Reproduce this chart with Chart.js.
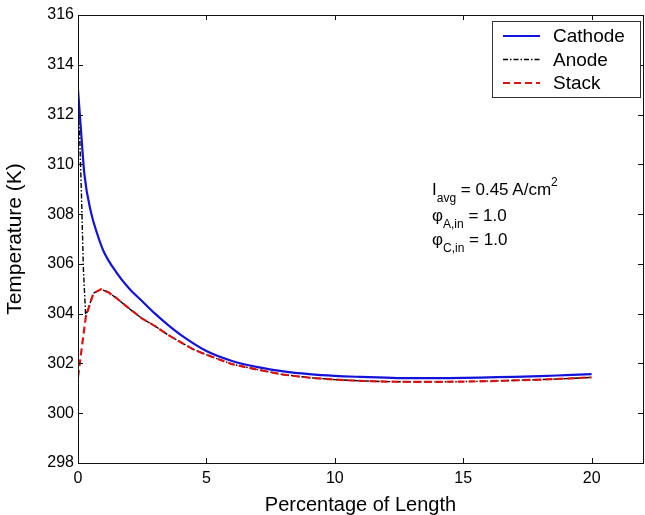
<!DOCTYPE html>
<html>
<head>
<meta charset="utf-8">
<title>Temperature vs Percentage of Length</title>
<script src="https://cdn.jsdelivr.net/npm/chart.js@4.4.1/dist/chart.umd.min.js"></script>
<style>
    html, body { margin: 0; padding: 0; background: #fff; }
    #wrap { position: relative; width: 645px; height: 515px; }
    .note { position: absolute; left: 432px; font: 17px "Liberation Sans", Arial, sans-serif; line-height: 17px; color: #000; white-space: nowrap; }
    .note .lo { position: relative; top: 7px; font-size: 12px; }
    .note .hi { position: relative; top: -9px; font-size: 12px; }
</style>
</head>
<body>
<div id="wrap">
    <canvas id="chart" width="645" height="515"></canvas>
    <div class="note" style="top:181px">I<span class="lo">avg</span> = 0.45 A/cm<span class="hi">2</span></div>
    <div class="note" style="top:207px">φ<span class="lo">A,in</span> = 1.0</div>
    <div class="note" style="top:231px">φ<span class="lo">C,in</span> = 1.0</div>
</div>
<script>
// values
const cathodeX = [0, 0.1, 0.25, 0.5, 0.75, 1, 1.5, 2, 2.5, 3, 3.5, 4, 5, 6, 7, 8, 9, 10, 11, 12, 13, 14, 15, 16, 17, 18, 19, 20];
const cathodeK = [313.0, 311.6, 309.6, 308.1, 307.2, 306.5, 305.65, 305.0, 304.5, 304.0, 303.55, 303.15, 302.5, 302.1, 301.85, 301.68, 301.57, 301.5, 301.46, 301.43, 301.41, 301.41, 301.42, 301.44, 301.46, 301.49, 301.53, 301.57];

const anodeX = [0, 0.07, 0.14, 0.21, 0.3, 0.6, 0.9, 1.2, 1.5, 2, 2.5, 3, 3.5, 4, 4.5, 5, 6, 7, 8, 9, 10, 11, 12, 13, 14, 15, 16, 17, 18, 19, 20];
const anodeK = [312.2, 311.0, 308.6, 305.8, 303.9, 304.82, 304.98, 304.85, 304.62, 304.2, 303.8, 303.5, 303.15, 302.85, 302.56, 302.35, 301.97, 301.75, 301.55, 301.43, 301.35, 301.3, 301.27, 301.26, 301.26, 301.27, 301.29, 301.32, 301.35, 301.39, 301.44];

const stackX = [0, 0.3, 0.6, 0.9, 1.2, 1.5, 2, 2.5, 3, 3.5, 4, 4.5, 5, 6, 7, 8, 9, 10, 11, 12, 13, 14, 15, 16, 17, 18, 19, 20];
const stackK = [301.45, 303.85, 304.82, 304.98, 304.85, 304.62, 304.2, 303.8, 303.5, 303.15, 302.85, 302.56, 302.35, 301.97, 301.75, 301.55, 301.43, 301.35, 301.3, 301.27, 301.26, 301.26, 301.27, 301.29, 301.32, 301.35, 301.39, 301.44];

const xTicks = [0, 5, 10, 15, 20];
const yTicks = [298, 300, 302, 304, 306, 308, 310, 312, 314, 316];

const FONT = '"Liberation Sans", Arial, sans-serif';

function pts(xs, ys) {
    return xs.map((x, i) => ({ x: x, y: ys[i] }));
}

// box round the plot with inward ticks on all four sides
const frameTicks = {
    id: 'frameTicks',
    afterDatasetsDraw(chart) {
        const { ctx, chartArea: a, scales } = chart;
        const len = 5;
        ctx.save();
        ctx.strokeStyle = '#111';
        ctx.lineWidth = 1;
        ctx.beginPath();
        for (const v of xTicks) {
            const px = Math.round(scales.x.getPixelForValue(v)) + 0.5;
            ctx.moveTo(px, a.bottom); ctx.lineTo(px, a.bottom - len);
            ctx.moveTo(px, a.top); ctx.lineTo(px, a.top + len);
        }
        for (const v of yTicks) {
            const py = Math.round(scales.y.getPixelForValue(v)) + 0.5;
            ctx.moveTo(a.left, py); ctx.lineTo(a.left + len, py);
            ctx.moveTo(a.right, py); ctx.lineTo(a.right - len, py);
        }
        ctx.stroke();
        ctx.strokeRect(Math.round(a.left) + 0.5, Math.round(a.top) + 0.5,
            Math.round(a.right - a.left), Math.round(a.bottom - a.top));
        ctx.restore();
    }
};

// matlab style legend box in the upper right corner
const boxLegend = {
    id: 'boxLegend',
    afterDraw(chart) {
        const { ctx } = chart;
        const x0 = 492.5, y0 = 21.5, w = 148, h = 76;
        ctx.save();
        ctx.fillStyle = '#fff';
        ctx.fillRect(x0, y0, w, h);
        ctx.strokeStyle = '#333';
        ctx.lineWidth = 1;
        ctx.strokeRect(x0, y0, w, h);
        ctx.font = '19px ' + FONT;
        ctx.textBaseline = 'middle';
        ctx.fillStyle = '#000';
        chart.data.datasets.forEach((ds, i) => {
            const y = 36 + i * 23.5;
            ctx.save();
            ctx.strokeStyle = ds.borderColor;
            ctx.lineWidth = ds.borderWidth;
            ctx.setLineDash(ds.borderDash || []);
            ctx.beginPath();
            ctx.moveTo(503, y);
            ctx.lineTo(540, y);
            ctx.stroke();
            ctx.restore();
            ctx.fillText(ds.label, 553, y + 1);
        });
        ctx.restore();
    }
};

new Chart(document.getElementById('chart'), {
    type: 'line',
    data: {
        datasets: [{
            label: 'Cathode',
            data: pts(cathodeX, cathodeK),
            borderColor: '#1212d8',
            borderWidth: 2.2,
            cubicInterpolationMode: 'monotone',
            pointRadius: 0,
            order: 2
        }, {
            label: 'Anode',
            data: pts(anodeX, anodeK),
            borderColor: '#000',
            borderWidth: 1.4,
            borderDash: [5, 2, 1.5, 2],
            tension: 0,
            pointRadius: 0,
            order: 1
        }, {
            label: 'Stack',
            data: pts(stackX, stackK),
            borderColor: '#dd1111',
            borderWidth: 2.2,
            borderDash: [7, 4],
            tension: 0,
            pointRadius: 0,
            order: 0
        }]
    },
    options: {
        responsive: false,
        animation: false,
        layout: { padding: { left: 0, top: 15, right: 2, bottom: 0 } },
        plugins: {
            legend: { display: false },
            tooltip: { enabled: false }
        },
        scales: {
            x: {
                type: 'linear',
                min: 0,
                max: 22,
                grid: { display: false, drawTicks: false },
                border: { display: false },
                afterBuildTicks: s => { s.ticks = xTicks.map(v => ({ value: v })); },
                afterFit: s => { s.height = 52; },
                ticks: { padding: 6, color: '#000', autoSkip: false, maxRotation: 0, font: { family: FONT, size: 16 } },
                title: { display: true, text: 'Percentage of Length', color: '#000', padding: { top: 0, bottom: 0 }, font: { family: FONT, size: 20, lineHeight: 1 } }
            },
            y: {
                type: 'linear',
                min: 298,
                max: 316,
                grid: { display: false, drawTicks: false },
                border: { display: false },
                afterBuildTicks: s => { s.ticks = yTicks.map(v => ({ value: v })); },
                afterFit: s => { s.width = 78; },
                ticks: { padding: 4, color: '#000', autoSkip: false, font: { family: FONT, size: 16 } },
                title: { display: true, text: 'Temperature (K)', color: '#000', padding: { top: 5, bottom: 0 }, font: { family: FONT, size: 21, lineHeight: 1 } }
            }
        }
    },
    plugins: [frameTicks, boxLegend]
});
</script>
</body>
</html>
